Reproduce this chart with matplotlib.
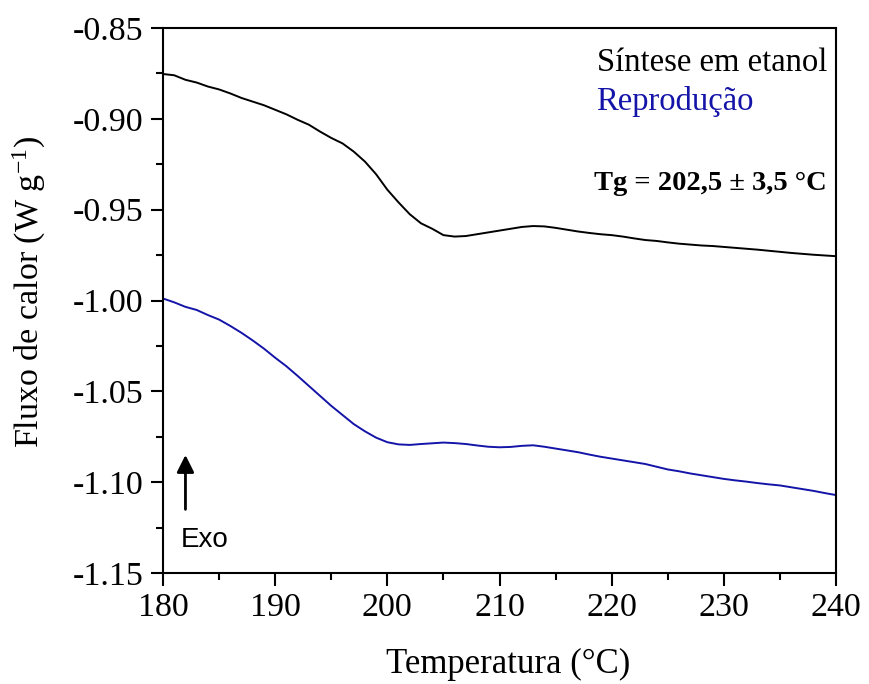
import matplotlib
matplotlib.use("Agg")
import matplotlib.pyplot as plt
from matplotlib.ticker import MultipleLocator, FormatStrFormatter

plt.rcParams['font.family'] = ['Liberation Serif', 'DejaVu Serif']
plt.rcParams['axes.unicode_minus'] = False
plt.rcParams['mathtext.default'] = 'regular'

# DSC curves, heat flow vs temperature
temperatura = list(range(180, 241))

sintese_etanol = [
    -0.8753, -0.8760, -0.8785, -0.8800, -0.8822, -0.8838, -0.8860, -0.8885, -0.8905, -0.8925,
    -0.8950, -0.8975, -0.9005, -0.9032, -0.9070, -0.9105, -0.9135, -0.9180, -0.9235, -0.9305,
    -0.9390, -0.9460, -0.9525, -0.9575, -0.9605, -0.9640, -0.9648, -0.9645, -0.9635, -0.9625,
    -0.9615, -0.9605, -0.9595, -0.9590, -0.9592, -0.9600, -0.9610, -0.9620, -0.9628, -0.9635,
    -0.9640, -0.9648, -0.9658, -0.9667, -0.9672, -0.9680, -0.9687, -0.9692, -0.9697, -0.9700,
    -0.9705, -0.9710, -0.9715, -0.9720, -0.9726, -0.9732, -0.9738, -0.9743, -0.9748, -0.9752,
    -0.9756,
]

reproducao = [
    -0.9989, -1.0010, -1.0035, -1.0052, -1.0080, -1.0105, -1.0140, -1.0178, -1.0220, -1.0265,
    -1.0315, -1.0362, -1.0415, -1.0470, -1.0525, -1.0580, -1.0630, -1.0680, -1.0720, -1.0755,
    -1.0780, -1.0792, -1.0795, -1.0790, -1.0786, -1.0782, -1.0785, -1.0790, -1.0798, -1.0805,
    -1.0808, -1.0806, -1.0800, -1.0797, -1.0805, -1.0815, -1.0825, -1.0835, -1.0848, -1.0860,
    -1.0870, -1.0880, -1.0890, -1.0900, -1.0915, -1.0930, -1.0940, -1.0952, -1.0962, -1.0972,
    -1.0982, -1.0990, -1.0997, -1.1005, -1.1012, -1.1018, -1.1028, -1.1038, -1.1048, -1.1060,
    -1.1071,
]

azul = '#1414a8'

fig = plt.figure(figsize=(8.69, 6.84), dpi=100)
ax = fig.add_axes([0.1876, 0.1623, 0.7744, 0.7967])

ax.plot(temperatura, sintese_etanol, color='black', lw=1.4)
ax.plot(temperatura, reproducao, color=azul, lw=1.4)

ax.set_xlim(180, 240)
ax.set_ylim(-1.15, -0.85)
ax.xaxis.set_major_locator(MultipleLocator(10))
ax.xaxis.set_minor_locator(MultipleLocator(5))
ax.yaxis.set_major_locator(MultipleLocator(0.05))
ax.yaxis.set_minor_locator(MultipleLocator(0.025))
ax.yaxis.set_major_formatter(FormatStrFormatter('%.2f'))

ax.tick_params(which='major', direction='out', length=9, width=1.5, labelsize=24.5, pad=5)
ax.tick_params(which='minor', direction='out', length=5, width=1.5)
for s in ax.spines.values():
    s.set_linewidth(1.5)

ax.set_xlabel('Temperatura (°C)', fontsize=25, labelpad=18)
ax.set_ylabel('Fluxo de calor (W g$^{-1}$)', fontsize=24.5, labelpad=18)
ax.xaxis.label.set_x(0.513)
ax.yaxis.label.set_y(0.516)

ax.text(0.987, 0.937, 'Síntese em etanol', transform=ax.transAxes, ha='right', va='center',
        fontsize=23.5, color='black')
ax.text(0.644, 0.865, 'Reprodução', transform=ax.transAxes, ha='left', va='center',
        fontsize=23.5, color=azul)
ax.text(0.987, 0.714, 'Tg = 202,5 ± 3,5 °C', transform=ax.transAxes, ha='right', va='center',
        fontsize=20.5, fontweight='bold')

ax.annotate('', xy=(182, -1.0835), xytext=(182, -1.1165),
            arrowprops=dict(arrowstyle='-|>', color='black', lw=2, mutation_scale=26))
ax.text(183.7, -1.132, 'Exo', ha='center', va='center', fontsize=20, family='Liberation Sans')

fig.savefig('out.png', dpi=100)
